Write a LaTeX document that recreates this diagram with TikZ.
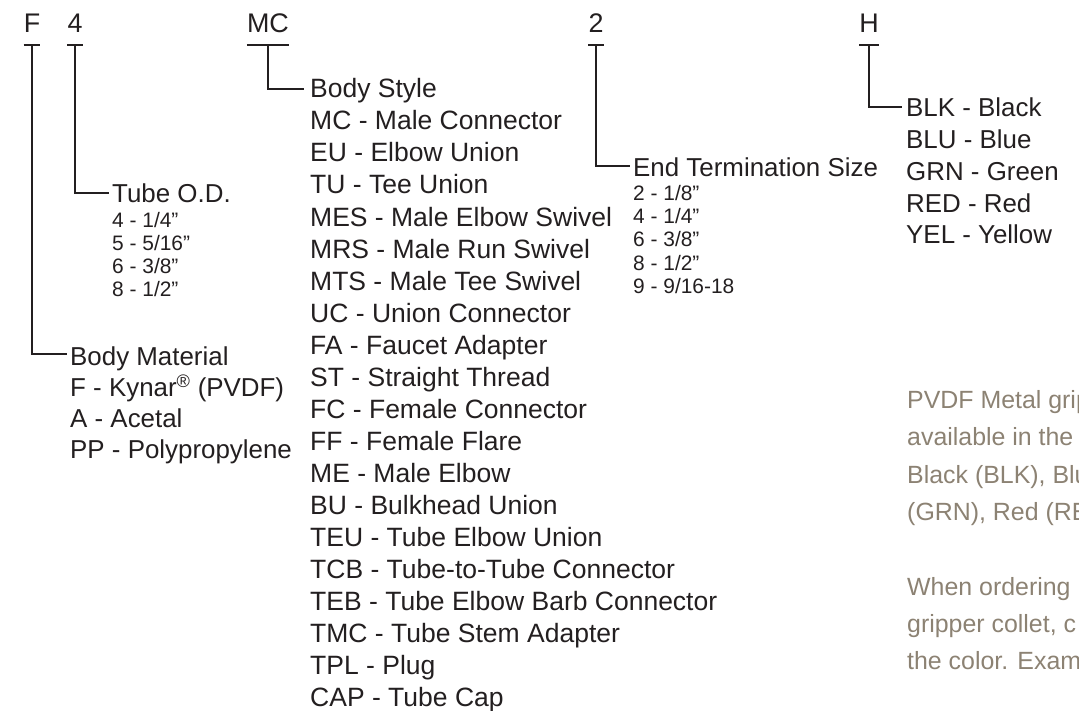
\documentclass[tikz,border=0pt]{standalone}
\usepackage{fontspec}
\setmainfont{Liberation Sans}
\usetikzlibrary{calc}

\definecolor{ink}{HTML}{231F20}
\definecolor{note}{HTML}{8C8273}

\tikzset{
  code/.style={inner sep=0pt, anchor=base, font=\fontsize{27}{27}\selectfont},
  head/.style={inner sep=0pt, anchor=base west, font=\fontsize{26}{26}\selectfont},
  biglist/.style={head, font=\fontsize{26.6}{27}\selectfont},
  small/.style={inner sep=0pt, anchor=base west, font=\fontsize{21}{21}\selectfont},
  notetext/.style={inner sep=0pt, anchor=base west, text=note, font=\fontsize{25}{25}\selectfont},
  lead/.style={line width=2.8bp, draw=ink},
}

\begin{document}
\begin{tikzpicture}[x=1bp, y=-1bp, text=ink]
  \useasboundingbox (0,0) rectangle (1079,711);
  \clip (0,0) rectangle (1079,711);
  % Part number letters
  \node[code] (cF) at (32,33) {F};
  \node[code] (c4) at (75,33) {4};
  \node[code] (cMC) at (268,33) {MC};
  \node[code] (c2) at (596,33) {2};
  \node[code] (cH) at (869,33) {H};
  \foreach \c in {cF,c4,cMC,c2,cH}
    \draw[lead] ($(\c.base west)+(0,12)$) -- ($(\c.base east)+(0,12)$);
  % Body material
  \node[head] (material) at (70,365) {Body Material};
  \foreach \t [count=\i] in {F - Kynar\textsuperscript{®} (PVDF), A - Acetal, PP - Polypropylene}
    \node[head] (material\i) at (70,{365+31.3*\i}) {\t};
  \draw[lead] ($(cF.base)+(0,12)$) |- ($(material.base west)+(-3,-11)$);
  % Tube O.D.
  \node[head] (tube) at (112,203) {Tube O.D.};
  \foreach \t [count=\i] in {4 - 1/4”, 5 - 5/16”, 6 - 3/8”, 8 - 1/2”}
    \node[small] (tube\i) at (112,{204+23*\i}) {\t};
  \draw[lead] ($(c4.base)+(0,12)$) |- ($(tube.base west)+(-3,-10)$);
  % Body style
  \node[biglist] (style) at (310,98) {Body Style};
  \foreach \t [count=\i] in {MC - Male Connector, EU - Elbow Union, TU - Tee Union,
      MES - Male Elbow Swivel, MRS - Male Run Swivel, MTS - Male Tee Swivel,
      UC - Union Connector, FA - Faucet Adapter, ST - Straight Thread,
      FC - Female Connector, FF - Female Flare, ME - Male Elbow,
      BU - Bulkhead Union, TEU - Tube Elbow Union, TCB - Tube-to-Tube Connector,
      TEB - Tube Elbow Barb Connector, TMC - Tube Stem Adapter, TPL - Plug,
      CAP - Tube Cap}
    \node[biglist] (style\i) at (310,{98+32*\i}) {\t};
  \draw[lead] ($(cMC.base)+(0,12)$) |- ($(style.base west)+(-6,-9)$);
  % End termination size
  \node[head] (endsize) at (633,177) {End Termination Size};
  \foreach \t [count=\i] in {2 - 1/8”, 4 - 1/4”, 6 - 3/8”, 8 - 1/2”, 9 - 9/16-18}
    \node[small] (endsize\i) at (633,{177+23.3*\i}) {\t};
  \draw[lead] ($(c2.base)+(0,12)$) |- ($(endsize.base west)+(-3,-11)$);
  % Colour
  \node[head] (colour) at (906,117) {BLK - Black};
  \foreach \t [count=\i] in {BLU - Blue, GRN - Green, RED - Red, YEL - Yellow}
    \node[head] (colour\i) at (906,{117+31.7*\i}) {\t};
  \draw[lead] ($(cH.base)+(0,12)$) |- ($(colour.base west)+(-4,-10)$);
  % Note
  \foreach \t [count=\i] in {PVDF Metal gripper, available in the, Black (BLK)\char44{} Blue, (GRN)\char44{} Red (RED)}
    \node[notetext] (note\i) at (907,{370.5+37.5*\i}) {\t};
  \foreach \t [count=\i] in {When ordering, gripper collet\char44{} c, the color. Example}
    \node[notetext] (order\i) at (907,{558+37*\i}) {\t};
\end{tikzpicture}
\end{document}
